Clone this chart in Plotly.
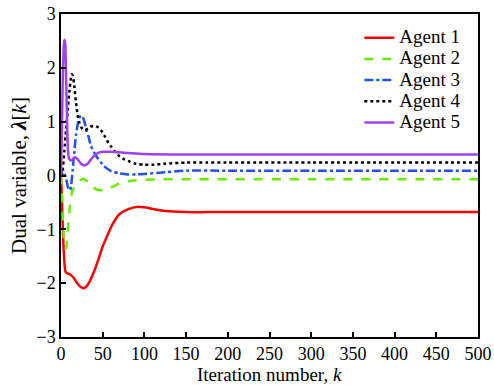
import plotly.graph_objects as go

# ---- data ----
k_red = [0, 1, 2, 3, 4, 5, 6, 8, 10, 12, 15, 18, 22, 26, 28, 30, 34, 40, 45, 50, 56, 62, 70, 80, 92, 100, 110, 125, 150, 175, 200, 300, 400, 500]
agent1 = [0, -0.4, -0.9, -1.3, -1.6, -1.76, -1.8, -1.82, -1.83, -1.85, -1.9, -1.97, -2.05, -2.09, -2.09, -2.07, -1.98, -1.77, -1.55, -1.32, -1.1, -0.9, -0.72, -0.63, -0.58, -0.59, -0.62, -0.66, -0.68, -0.68, -0.68, -0.68, -0.68, -0.68]

k_green = [0, 1, 2, 3, 4, 5, 6, 7, 8, 9, 10, 11, 13, 15, 18, 22, 27, 32, 38, 45, 52, 60, 70, 80, 90, 100, 120, 150, 200, 300, 500]
agent2 = [0, -0.3, -0.7, -1.05, -1.28, -1.34, -1.35, -1.25, -1.05, -0.85, -0.68, -0.52, -0.33, -0.24, -0.17, -0.1, -0.06, -0.12, -0.22, -0.27, -0.27, -0.22, -0.15, -0.11, -0.09, -0.08, -0.07, -0.07, -0.07, -0.07, -0.07]

k_blue = [0, 1, 2, 3, 4, 5, 6, 7, 8, 9, 10, 11, 12, 14, 16, 18, 20, 22, 24, 26, 28, 30, 33, 36, 40, 44, 48, 52, 60, 70, 80, 90, 100, 125, 150, 200, 300, 500]
agent3 = [0, 0.08, 0.12, 0.08, 0.04, 0.0, -0.05, -0.12, -0.2, -0.25, -0.27, -0.27, -0.2, 0.1, 0.45, 0.75, 0.95, 1.07, 1.11, 1.09, 1.0, 0.88, 0.72, 0.55, 0.42, 0.32, 0.24, 0.17, 0.08, 0.04, 0.02, 0.02, 0.03, 0.06, 0.09, 0.09, 0.09, 0.09]

k_black = [0, 1, 2, 4, 6, 8, 10, 12, 13, 14, 16, 18, 20, 22, 25, 28, 30, 33, 36, 40, 44, 48, 52, 56, 60, 65, 70, 76, 82, 90, 100, 110, 125, 150, 175, 200, 300, 500]
agent4 = [0, 0.0, 0.1, 0.45, 0.85, 1.2, 1.55, 1.82, 1.88, 1.86, 1.65, 1.35, 1.12, 0.98, 0.88, 0.84, 0.85, 0.88, 0.91, 0.92, 0.9, 0.84, 0.74, 0.63, 0.54, 0.44, 0.36, 0.3, 0.26, 0.22, 0.2, 0.2, 0.22, 0.24, 0.24, 0.24, 0.24, 0.24]

k_purple = [0, 1, 2, 3, 4, 5, 6, 7, 8, 9, 10, 12, 14, 17, 20, 24, 28, 32, 36, 40, 46, 52, 60, 70, 80, 100, 150, 200, 500]
agent5 = [0, 0.8, 1.7, 2.3, 2.52, 2.45, 1.9, 1.2, 0.6, 0.36, 0.3, 0.28, 0.3, 0.34, 0.3, 0.22, 0.19, 0.22, 0.3, 0.37, 0.43, 0.44, 0.44, 0.43, 0.42, 0.4, 0.39, 0.39, 0.39]

names = ["Agent 1", "Agent 2", "Agent 3", "Agent 4", "Agent 5"]
colors = ["#ff0000", "#66ee00", "#1f4fff", "#000000", "#a040f0"]
dashes = ["solid", "dash", "dashdot", "dot", "solid"]
xs = [k_red, k_green, k_blue, k_black, k_purple]
ys = [agent1, agent2, agent3, agent4, agent5]

FONT = "Liberation Serif, Times New Roman, serif"

fig = go.Figure()
for x, y, n, c, d in zip(xs, ys, names, colors, dashes):
    fig.add_trace(go.Scatter(x=x, y=y, name='<span style="font-size:19px">' + n + '</span>', mode="lines",
                             line=dict(color=c, width=2.5, dash=d, shape="spline", smoothing=0.7)))

axis_common = dict(showline=True, linecolor="black", linewidth=1.5, mirror=True,
                   ticks="inside", ticklen=5, tickwidth=1.5, tickcolor="black",
                   showgrid=False, zeroline=False, automargin=False,
                   tickfont=dict(family=FONT, size=18, color="black"))

fig.update_xaxes(range=[0, 500], dtick=50, tick0=0, **axis_common)
fig.update_yaxes(range=[-3, 3], dtick=1, tick0=0,
                 title=dict(text="Dual variable, <i><b>λ</b></i>[<i>k</i>]", font=dict(family=FONT, size=21, color="black"), standoff=4),
                 **axis_common)

# x-axis title placed as an annotation just below the tick labels
fig.add_annotation(text="Iteration number, <i>k</i>", xref="paper", yref="paper",
                   x=0.5, y=-0.1146, xanchor="center", yanchor="middle", showarrow=False,
                   borderpad=0, font=dict(family=FONT, size=19, color="black"))

fig.update_layout(
    width=494, height=385,
    margin=dict(l=61, r=16, t=14, b=48),
    paper_bgcolor="white", plot_bgcolor="white",
    showlegend=True,
    legend=dict(x=0.972, y=0.975, xanchor="right", yanchor="top",
                bgcolor="rgba(255,255,255,0)", borderwidth=0,
                font=dict(family=FONT, size=14, color="black"),
                tracegroupgap=0),
)

fig.write_html("out.html", config={"displayModeBar": False},
               post_script="document.body.style.margin='0';document.body.style.overflow='hidden';")
